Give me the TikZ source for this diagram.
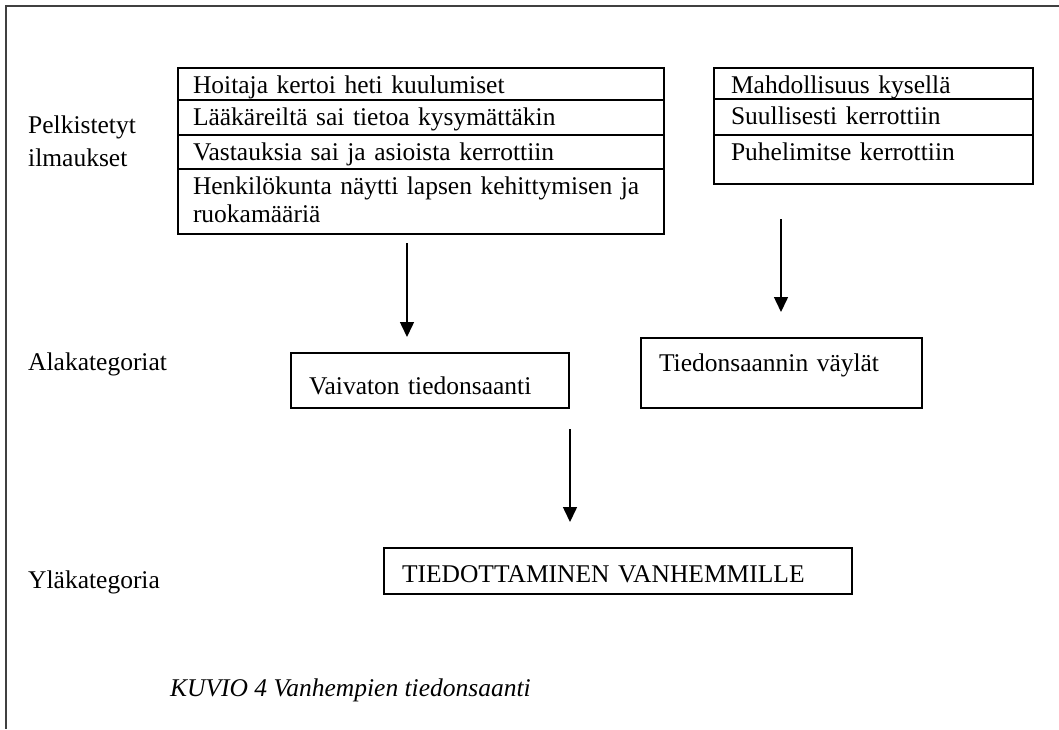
\documentclass[tikz,border=0pt]{standalone}
\usepackage{fontspec}
\setmainfont{Liberation Serif}
\usetikzlibrary{arrows.meta}

\begin{document}
\begin{tikzpicture}
[x=1pt,y=-1pt,%
  font=\fontsize{25.5}{28}\selectfont,%
  arrowDecorate/.style={-{Triangle[width=14pt,length=15pt]},line width=1.5pt},%
  rowDecorate/.style={draw,line width=2pt,anchor=north west,inner ysep=0pt,text height=25pt,align=left},%
  boxDecorate/.style={draw,line width=2pt,anchor=north west,inner xsep=18pt,inner ysep=0pt,align=left},%
  labelDecorate/.style={anchor=base west,inner sep=0pt,align=left}]
\useasboundingbox (0,0) rectangle (1059,729);
%% frame
\draw[line width=2pt,black!75] (1059,6) -- (6,6) -- (6,729);
%% level names
\node (pelkistetyt) at (28,133) [labelDecorate,text width=150pt,font=\fontsize{25.5}{33}\selectfont] {Pelkistetyt\\ilmaukset};
\node (alakategoriat) at (28,370) [labelDecorate] {Alakategoriat};
\node (ylakategoria) at (28,588) [labelDecorate] {Yläkategoria};
%% reduced expressions, left column
\foreach \rowname/\y/\d/\txt in {hoitaja/67/7/Hoitaja kertoi heti kuulumiset,
  laakarit/99/10/Lääkäreiltä sai tietoa kysymättäkin,
  vastauksia/134/9/Vastauksia sai ja asioista kerrottiin,
  henkilokunta/168/40/Henkilökunta näytti lapsen kehittymisen ja\\ruokamääriä}
{
  \node (\rowname) at (177,\y) [rowDecorate,inner xsep=15pt,text width=456pt,text depth=\d pt] {\txt};
}
%% reduced expressions, right column
\foreach \rowname/\y/\d/\txt in {kysella/67/6/Mahdollisuus kysellä,
  suullisesti/98/11/Suullisesti kerrottiin,
  puhelimitse/134/24/Puhelimitse kerrottiin}
{
  \node (\rowname) at (713,\y) [rowDecorate,inner xsep=17pt,text width=285pt,text depth=\d pt] {\txt};
}
%% categories
\node (vaivaton) at (290,352) [boxDecorate,text width=242pt,text height=41pt,text depth=14pt] {Vaivaton tiedonsaanti};
\node (vaylat) at (640,337) [boxDecorate,text width=245pt,text height=33pt,text depth=37pt] {Tiedonsaannin väylät};
\node (tiedottaminen) at (383,547) [boxDecorate,text width=432pt,text height=34pt,text depth=12pt] {TIEDOTTAMINEN VANHEMMILLE};
%% arrows
\foreach \arrowname/\x/\ystart/\yend in {left/407/243/337, right/781/219/312, down/570/429/522}
{
  \coordinate (\arrowname start) at (\x,\ystart);
  \coordinate (\arrowname end) at (\x,\yend);
  \draw[arrowDecorate] (\arrowname start) -- (\arrowname end);
}
%% caption
\node (kuvio) at (170,696) [labelDecorate,font=\fontsize{25.5}{28}\selectfont\itshape] {KUVIO 4 Vanhempien tiedonsaanti};
\end{tikzpicture}
\end{document}
